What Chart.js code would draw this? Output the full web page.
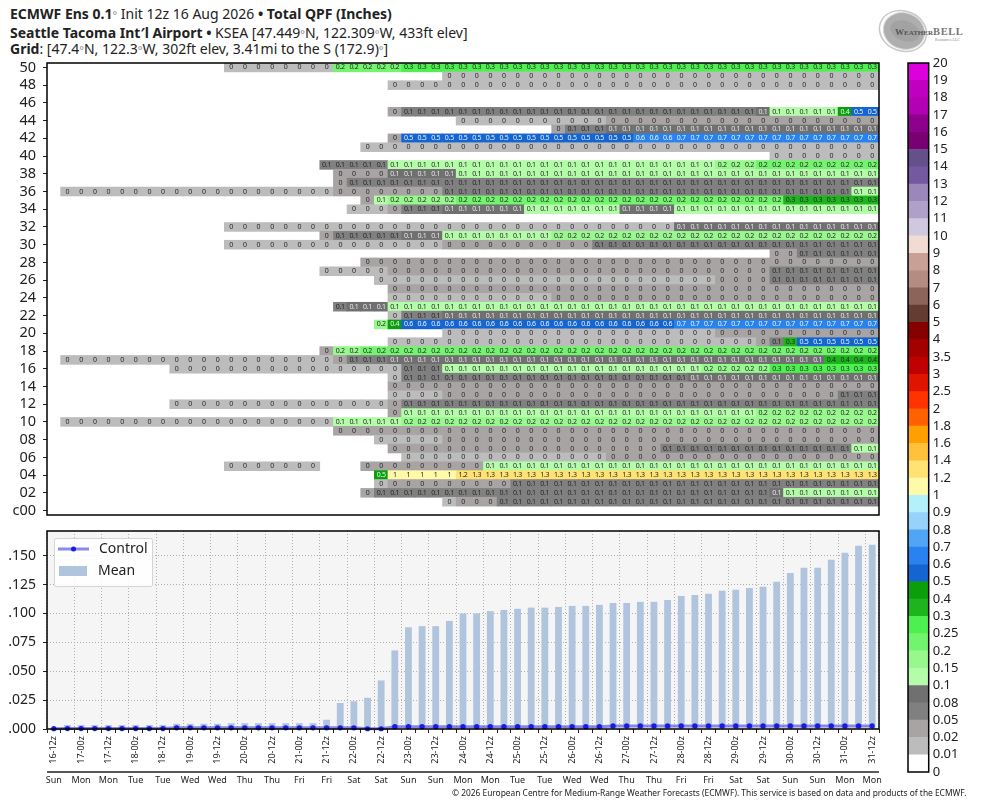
<!DOCTYPE html>
<html><head><meta charset="utf-8">
<script src="https://cdn.jsdelivr.net/npm/chart.js@4/dist/chart.umd.min.js"></script>
<style>
html,body{margin:0;padding:0;background:#fff;width:984px;height:808px;overflow:hidden;font-family:"Noto Sans",sans-serif;color:#222}
canvas{position:absolute}
.t{position:absolute;left:10px;white-space:nowrap;font-size:14px;line-height:16px}
.d{color:#888;font-size:11px}
#copy{position:absolute;left:452px;top:787px;font-size:8.4px;line-height:12px;white-space:nowrap;color:#222}
#logo{position:absolute;left:875px;top:4px}
</style></head><body>
<div class="t" style="top:6px"><b>ECMWF Ens 0.1</b><span class="d">°</span> Init 12z 16 Aug 2026 <b>• Total QPF (Inches)</b></div>
<div class="t" style="top:25px"><b>Seattle Tacoma Int′l Airport •</b> KSEA [47.449<span class="d">°</span>N, 122.309<span class="d">°</span>W, 433ft elev]</div>
<div class="t" style="top:41px"><b>Grid</b>: [47.4<span class="d">°</span>N, 122.3<span class="d">°</span>W, 302ft elev, 3.41mi to the S (172.9)<span class="d">°</span>]</div>
<svg id="logo" width="100" height="54" viewBox="0 0 100 54">
<ellipse cx="28" cy="27" rx="24" ry="20" fill="none" stroke="#c8c8c8" stroke-width="1.5" transform="rotate(20 28 27)"/>
<ellipse cx="29" cy="27" rx="21" ry="18" fill="#aeaeae" stroke="#d8d8d8" stroke-width="1" transform="rotate(20 29 27)"/>
<ellipse cx="30" cy="27" rx="15" ry="10" fill="#a2a2a2" transform="rotate(20 30 27)"/>
<text x="20" y="31" font-family="Liberation Serif" font-weight="bold" font-size="9" fill="#555">W<tspan font-size="7">EATHER</tspan><tspan font-size="10.5" fill="#777" letter-spacing=".6">BELL</tspan></text>
<text x="60" y="37" font-family="Liberation Serif" font-size="4" fill="#888">Resources LLC</text>
</svg>
<canvas id="heat" width="890" height="465" style="left:0;top:55px"></canvas>
<canvas id="bars" width="890" height="283" style="left:0;top:525px"></canvas>
<canvas id="cbar" width="94" height="730" style="left:890px;top:50px"></canvas>
<div id="copy">© 2026 European Centre for Medium-Range Weather Forecasts (ECMWF). This service is based on data and products of the ECMWF.</div>
<script>
const _ = null;
const timeLabels = ['16-12z','16-18z','17-00z','17-06z','17-12z','17-18z','18-00z','18-06z','18-12z','18-18z','19-00z','19-06z','19-12z','19-18z','20-00z','20-06z','20-12z','20-18z','21-00z','21-06z','21-12z','21-18z','22-00z','22-06z','22-12z','22-18z','23-00z','23-06z','23-12z','23-18z','24-00z','24-06z','24-12z','24-18z','25-00z','25-06z','25-12z','25-18z','26-00z','26-06z','26-12z','26-18z','27-00z','27-06z','27-12z','27-18z','28-00z','28-06z','28-12z','28-18z','29-00z','29-06z','29-12z','29-18z','30-00z','30-06z','30-12z','30-18z','31-00z','31-06z','31-12z'];
const dayLabels = ['Sun','Mon','Mon','Tue','Tue','Wed','Wed','Thu','Thu','Fri','Fri','Sat','Sat','Sun','Sun','Mon','Mon','Tue','Tue','Wed','Wed','Thu','Thu','Fri','Fri','Sat','Sat','Sun','Sun','Mon','Mon'];
const m50=[_,_,_,_,_,_,_,_,_,_, _,_,_,.01,.01,.01,.01,.01,.01,.01, .01,.22,.22,.22,.22,.22,.27,.27,.27,.27, .27,.27,.27,.27,.27,.27,.27,.27,.27,.27, .27,.27,.27,.27,.27,.27,.27,.27,.27,.27, .27,.27,.27,.27,.27,.27,.27,.27,.27,.27, .27];
const m49=[_,_,_,_,_,_,_,_,_,_, _,_,_,_,_,_,_,_,_,_, _,_,_,_,_,_,_,_,_,.01, .01,.01,.01,.01,.01,.01,.01,.01,.01,.01, .01,.01,.01,.01,.01,.01,.01,.01,.01,.01, .01,.01,.01,.01,.01,.01,.01,.01,.01,.01, .01];
const m48=[_,_,_,_,_,_,_,_,_,_, _,_,_,_,_,_,_,_,_,_, _,_,_,_,_,.01,.01,.01,.01,.01, .01,.01,.01,.01,.01,.01,.01,.01,.01,.01, .01,.01,.01,.01,.01,.01,.01,.01,.01,.01, .01,.01,.01,.01,.01,.01,.01,.01,.01,.01, .01];
const m47=[];
const m46=[];
const m45=[_,_,_,_,_,_,_,_,_,_, _,_,_,_,_,_,_,_,_,_, _,_,_,_,_,.03,.06,.06,.06,.06, .06,.06,.06,.06,.06,.06,.06,.06,.06,.06, .06,.06,.06,.06,.06,.06,.06,.06,.06,.06, .06,.06,.09,.12,.12,.12,.12,.12,.42,.53, .53];
const m44=[_,_,_,_,_,_,_,_,_,_, _,_,_,_,_,_,_,_,_,_, _,_,_,_,_,_,_,_,_,_, .01,.01,.01,.01,.01,.01,.01,.01,.01,.01, .01,.03,.03,.03,.03,.03,.03,.03,.03,.03, .03,.03,.03,.03,.03,.03,.03,.03,.03,.03, .03];
const m43=[_,_,_,_,_,_,_,_,_,_, _,_,_,_,_,_,_,_,_,_, _,_,_,_,_,_,_,_,_,_, _,_,_,_,_,_,_,.03,.06,.06, .06,.09,.09,.09,.09,.09,.09,.09,.09,.09, .09,.09,.09,.09,.09,.09,.09,.09,.09,.09, .09];
const m42=[_,_,_,_,_,_,_,_,_,_, _,_,_,_,_,_,_,_,_,_, _,_,_,_,_,.03,.53,.53,.53,.53, .53,.53,.53,.53,.53,.53,.53,.53,.53,.53, .53,.53,.53,.63,.63,.63,.67,.67,.67,.67, .67,.67,.67,.67,.67,.67,.67,.67,.67,.67, .67];
const m41=[_,_,_,_,_,_,_,_,_,_, _,_,_,_,_,_,_,_,_,_, _,_,_,.01,.01,.01,.01,.01,.01,.01, .01,.01,.01,.01,.01,.01,.01,.01,.01,.01, .01,.01,.01,.01,.01,.01,.01,.01,.01,.01, .01,.01,.01,.01,.01,.01,.01,.01,.01,.01, .01];
const m40=[_,_,_,_,_,_,_,_,_,_, _,_,_,_,_,_,_,_,_,_, _,_,_,_,_,_,_,_,_,_, _,_,_,_,_,_,_,_,_,_, _,_,_,_,_,_,_,_,_,_, _,_,_,.01,.01,.01,.01,.01,.01,.01, .01];
const m39=[_,_,_,_,_,_,_,_,_,_, _,_,_,_,_,_,_,_,_,_, .06,.06,.06,.06,.06,.12,.12,.12,.12,.12, .12,.12,.12,.12,.12,.12,.12,.12,.12,.12, .12,.12,.12,.12,.12,.12,.12,.12,.12,.17, .17,.17,.22,.22,.22,.22,.22,.22,.22,.22, .22];
const m38=[_,_,_,_,_,_,_,_,_,_, _,_,_,_,_,_,_,_,_,_, _,.03,.03,.03,.03,.09,.09,.09,.09,.09, .12,.12,.12,.12,.12,.12,.12,.12,.12,.12, .12,.12,.12,.12,.12,.12,.12,.12,.12,.12, .12,.12,.12,.12,.12,.12,.12,.12,.12,.12, .12];
const m37=[_,_,_,_,_,_,_,_,_,_, _,_,_,_,_,_,_,_,_,_, _,.03,.06,.06,.06,.06,.06,.06,.06,.06, .06,.06,.06,.06,.06,.06,.06,.06,.06,.06, .06,.06,.06,.06,.06,.06,.06,.06,.06,.06, .06,.06,.06,.06,.06,.06,.06,.06,.06,.06, .06];
const m36=[_,.01,.01,.01,.01,.01,.01,.01,.01,.01, .01,.01,.01,.01,.01,.01,.01,.01,.01,.01, .01,.03,.03,.03,.03,.03,.03,.03,.03,.06, .06,.06,.06,.06,.06,.06,.06,.06,.06,.06, .06,.06,.06,.06,.06,.06,.06,.06,.06,.06, .06,.06,.06,.06,.06,.06,.06,.06,.06,.12, .12];
const m35=[_,_,_,_,_,_,_,_,_,_, _,_,_,_,_,_,_,_,_,_, _,_,_,.03,.12,.17,.17,.17,.17,.17, .22,.22,.22,.22,.22,.22,.22,.22,.22,.22, .22,.22,.22,.22,.22,.22,.22,.22,.22,.22, .22,.22,.22,.22,.33,.33,.33,.33,.33,.33, .33];
const m34=[_,_,_,_,_,_,_,_,_,_, _,_,_,_,_,_,_,_,_,_, _,_,.01,.01,.01,.03,.06,.06,.06,.09, .09,.09,.09,.09,.09,.12,.12,.12,.12,.12, .12,.12,.09,.09,.09,.09,.12,.12,.12,.12, .12,.12,.12,.12,.12,.12,.12,.12,.12,.12, .12];
const m33=[];
const m32=[_,_,_,_,_,_,_,_,_,_, _,_,_,.01,.01,.01,.01,.01,.01,.01, .01,.01,.01,.01,.01,.01,.01,.01,.01,.01, .01,.01,.01,.01,.01,.01,.01,.01,.01,.01, .01,.01,.01,.01,.01,.01,.09,.09,.09,.09, .09,.09,.09,.09,.09,.09,.09,.09,.09,.09, .09];
const m31=[_,_,_,_,_,_,_,_,_,_, _,_,_,_,_,_,_,_,_,_, .03,.06,.06,.06,.06,.06,.09,.09,.09,.12, .12,.12,.12,.12,.12,.12,.12,.17,.17,.17, .17,.17,.17,.17,.17,.17,.17,.17,.17,.17, .17,.17,.17,.17,.17,.17,.17,.17,.17,.17, .17];
const m30=[_,_,_,_,_,_,_,_,_,_, _,_,_,.01,.01,.01,.01,.01,.01,.01, .01,.01,.01,.01,.01,.01,.01,.01,.01,.03, .03,.03,.03,.03,.03,.03,.03,.03,.03,.03, .06,.06,.06,.06,.06,.06,.06,.06,.06,.06, .06,.06,.06,.06,.06,.06,.06,.06,.06,.06, .06];
const m29=[_,_,_,_,_,_,_,_,_,_, _,_,_,_,_,_,_,_,_,_, _,_,_,_,_,_,_,_,_,_, _,_,_,_,_,_,_,_,_,_, _,_,_,_,_,_,_,_,_,_, _,_,_,.03,.03,.06,.06,.06,.06,.06, .06];
const m28=[_,_,_,_,_,_,_,_,_,_, _,_,_,_,_,_,_,_,_,_, _,_,_,.03,.03,.03,.03,.03,.03,.03, .03,.03,.03,.03,.03,.03,.03,.03,.03,.03, .03,.03,.03,.03,.03,.03,.03,.03,.03,.03, .03,.03,.03,.03,.03,.03,.03,.03,.03,.03, .03];
const m27=[_,_,_,_,_,_,_,_,_,_, _,_,_,_,_,_,_,_,_,_, .01,.01,.01,.01,.01,.03,.03,.03,.03,.03, .03,.03,.03,.03,.03,.03,.03,.03,.03,.03, .03,.03,.03,.03,.03,.03,.03,.03,.03,.03, .03,.03,.03,.06,.06,.06,.06,.06,.06,.06, .06];
const m26=[_,_,_,_,_,_,_,_,_,_, _,_,_,_,_,_,_,_,_,_, _,_,_,_,.01,.01,.01,.01,.01,.01, .01,.01,.01,.01,.01,.01,.01,.01,.01,.01, .01,.01,.01,.01,.01,.01,.01,.01,.01,.03, .03,.03,.03,.06,.06,.06,.06,.06,.06,.06, .06];
const m25=[_,_,_,_,_,_,_,_,_,_, _,_,_,_,_,_,_,_,_,_, _,_,_,_,_,.03,.03,.03,.03,.03, .03,.03,.03,.03,.03,.03,.03,.03,.03,.03, .03,.03,.03,.03,.03,.03,.03,.03,.03,.03, .03,.03,.03,.03,.03,.03,.03,.03,.03,.03, .03];
const m24=[_,_,_,_,_,_,_,_,_,_, _,_,_,_,_,_,_,_,_,_, _,_,_,_,_,.01,.01,.01,.01,.01, .01,.01,.01,.01,.01,.01,.01,.03,.03,.03, .03,.03,.03,.03,.03,.03,.03,.03,.03,.03, .03,.03,.03,.03,.03,.03,.03,.03,.03,.03, .03];
const m23=[_,_,_,_,_,_,_,_,_,_, _,_,_,_,_,_,_,_,_,_, _,.06,.09,.09,.09,.12,.12,.12,.12,.12, .12,.12,.12,.12,.12,.12,.12,.12,.12,.12, .12,.12,.12,.12,.12,.12,.12,.12,.12,.12, .12,.12,.12,.12,.12,.12,.12,.12,.12,.12, .12];
const m22=[_,_,_,_,_,_,_,_,_,_, _,_,_,_,_,_,_,_,_,_, _,_,_,_,_,.01,.06,.06,.06,.09, .09,.09,.09,.09,.09,.09,.09,.09,.09,.09, .09,.09,.09,.09,.09,.09,.09,.09,.09,.09, .09,.09,.09,.09,.09,.09,.09,.09,.09,.09, .09];
const m21=[_,_,_,_,_,_,_,_,_,_, _,_,_,_,_,_,_,_,_,_, _,_,_,_,.17,.42,.57,.57,.57,.57, .57,.57,.57,.57,.57,.57,.57,.57,.57,.57, .57,.57,.57,.57,.57,.57,.67,.67,.67,.67, .67,.67,.67,.67,.67,.67,.67,.67,.67,.67, .67];
const m20=[_,_,_,_,_,_,_,_,_,_, _,_,_,_,_,_,_,_,_,_, _,_,_,_,_,_,_,_,_,.01, .01,.01,.01,.01,.01,.01,.01,.01,.01,.01, .01,.01,.01,.01,.01,.01,.01,.01,.01,.03, .03,.03,.03,.03,.03,.03,.03,.03,.03,.03, .03];
const m19=[_,_,_,_,_,_,_,_,_,_, _,_,_,_,_,_,_,_,_,_, _,_,_,_,_,.01,.01,.01,.01,.01, .01,.01,.01,.01,.01,.01,.01,.01,.01,.01, .01,.01,.01,.01,.01,.01,.01,.01,.01,.01, .01,.01,.03,.06,.33,.53,.53,.53,.53,.53, .53];
const m18=[_,_,_,_,_,_,_,_,_,_, _,_,_,_,_,_,_,_,_,_, .03,.17,.17,.22,.22,.22,.22,.22,.22,.22, .22,.22,.22,.22,.22,.22,.22,.22,.22,.22, .22,.22,.22,.22,.22,.22,.22,.22,.22,.22, .22,.22,.22,.22,.22,.22,.22,.22,.22,.22, .22];
const m17=[_,.01,.01,.01,.01,.01,.01,.01,.01,.01, .01,.01,.01,.01,.01,.01,.01,.01,.01,.01, .01,.03,.06,.06,.06,.09,.09,.09,.09,.09, .09,.09,.09,.09,.09,.09,.09,.09,.09,.09, .09,.09,.09,.09,.09,.09,.09,.09,.09,.09, .09,.09,.09,.09,.09,.09,.09,.37,.37,.37, .37];
const m16=[_,_,_,_,_,_,_,_,_,.01, .01,.01,.01,.01,.01,.01,.01,.01,.01,.01, .01,.01,.01,.01,.01,.01,.06,.06,.06,.12, .12,.12,.12,.12,.12,.12,.12,.12,.12,.12, .12,.12,.12,.12,.12,.12,.12,.12,.17,.17, .17,.17,.17,.27,.27,.27,.27,.27,.27,.27, .27];
const m15=[_,_,_,_,_,_,_,_,_,_, _,_,_,_,_,_,_,_,_,_, _,_,_,_,_,.01,.06,.06,.06,.06, .06,.06,.06,.06,.06,.06,.06,.06,.06,.06, .06,.06,.06,.06,.06,.06,.06,.09,.09,.09, .09,.09,.09,.09,.09,.09,.09,.09,.09,.09, .09];
const m14=[_,_,_,_,_,_,_,_,_,_, _,_,_,_,_,_,_,_,_,_, _,_,_,_,_,.03,.03,.03,.03,.03, .03,.03,.03,.03,.03,.03,.03,.03,.03,.03, .03,.03,.03,.03,.03,.03,.03,.03,.03,.03, .03,.03,.03,.03,.03,.03,.03,.03,.03,.03, .03];
const m13=[_,_,_,_,_,_,_,_,_,_, _,_,_,_,_,_,_,_,_,_, _,_,_,_,_,.01,.01,.01,.01,.03, .03,.03,.03,.03,.03,.03,.03,.03,.03,.03, .03,.03,.03,.03,.03,.03,.03,.03,.03,.03, .03,.03,.03,.03,.03,.03,.03,.03,.06,.06, .06];
const m12=[_,_,_,_,_,_,_,_,_,.01, .01,.01,.01,.01,.01,.01,.01,.01,.01,.01, .01,.01,.01,.01,.01,.03,.06,.06,.06,.06, .06,.06,.06,.06,.06,.06,.06,.06,.06,.06, .06,.06,.06,.06,.06,.06,.06,.06,.06,.06, .06,.06,.06,.06,.06,.06,.06,.06,.06,.06, .06];
const m11=[_,_,_,_,_,_,_,_,_,_, _,_,_,_,_,_,_,_,_,_, _,_,_,_,_,.03,.12,.12,.12,.12, .12,.12,.12,.12,.12,.12,.12,.12,.12,.12, .12,.12,.12,.12,.12,.12,.12,.12,.12,.12, .12,.12,.17,.17,.17,.17,.17,.17,.17,.17, .17];
const m10=[_,.01,.01,.01,.01,.01,.01,.01,.01,.01, .01,.01,.01,.01,.01,.01,.01,.01,.01,.01, .01,.12,.12,.12,.12,.12,.17,.17,.17,.17, .17,.17,.17,.17,.17,.17,.17,.17,.17,.17, .17,.17,.17,.17,.17,.17,.17,.17,.17,.17, .17,.17,.17,.17,.17,.17,.17,.17,.17,.17, .17];
const m09=[_,_,_,_,_,_,_,_,_,_, _,_,_,_,_,_,_,_,_,_, _,.03,.03,.03,.03,.03,.03,.03,.03,.03, .03,.03,.03,.03,.03,.03,.03,.03,.03,.03, .03,.03,.03,.03,.03,.03,.03,.03,.03,.03, .03,.03,.03,.03,.03,.03,.03,.03,.03,.03, .03];
const m08=[_,_,_,_,_,_,_,_,_,_, _,_,_,_,_,_,_,_,_,_, _,_,_,_,.01,.01,.01,.01,.01,.03, .03,.03,.03,.03,.03,.03,.03,.03,.03,.03, .03,.03,.03,.03,.03,.03,.03,.03,.03,.03, .03,.03,.03,.03,.03,.03,.03,.03,.03,.03, .03];
const m07=[_,_,_,_,_,_,_,_,_,_, _,_,_,_,_,_,_,_,_,_, _,_,_,_,_,.03,.03,.03,.03,.03, .03,.03,.03,.03,.03,.03,.03,.03,.03,.03, .03,.03,.03,.03,.03,.06,.06,.06,.06,.06, .06,.06,.06,.06,.06,.06,.06,.06,.06,.12, .12];
const m06=[_,_,_,_,_,_,_,_,_,_, _,_,_,_,_,_,_,_,_,_, _,_,_,_,_,_,.01,.01,.01,.01, .01,.01,.01,.01,.01,.01,.01,.01,.01,.01, .01,.03,.03,.03,.03,.03,.03,.03,.03,.03, .03,.03,.03,.03,.03,.03,.03,.03,.03,.03, .03];
const m05=[_,_,_,_,_,_,_,_,_,_, _,_,_,.01,.01,.01,.01,.01,.01,.01, _,_,_,.03,.03,.03,.03,.03,.03,.03, .03,.03,.12,.12,.12,.12,.12,.12,.12,.12, .12,.12,.12,.12,.12,.12,.12,.12,.12,.12, .12,.12,.12,.12,.12,.12,.12,.12,.12,.12, .12];
const m04=[_,_,_,_,_,_,_,_,_,_, _,_,_,_,_,_,_,_,_,_, _,_,_,_,.47,1.04,1.04,1.04,1.04,1.04, 1.22,1.3,1.3,1.3,1.3,1.3,1.3,1.3,1.3,1.3, 1.3,1.3,1.3,1.3,1.3,1.3,1.3,1.3,1.3,1.3, 1.3,1.3,1.3,1.3,1.3,1.3,1.3,1.3,1.3,1.3, 1.3];
const m03=[_,_,_,_,_,_,_,_,_,_, _,_,_,_,_,_,_,_,_,_, _,_,_,_,.01,.03,.03,.03,.03,.03, .03,.03,.03,.03,.06,.06,.06,.06,.06,.06, .06,.06,.06,.06,.06,.06,.06,.06,.06,.06, .06,.06,.06,.06,.06,.06,.06,.06,.06,.06, .06];
const m02=[_,_,_,_,_,_,_,_,_,_, _,_,_,_,_,_,_,_,_,_, _,_,_,.03,.06,.06,.06,.06,.06,.06, .06,.06,.06,.06,.06,.06,.06,.06,.06,.06, .06,.06,.06,.06,.06,.06,.06,.06,.06,.06, .06,.06,.06,.09,.12,.12,.12,.12,.12,.12, .12];
const m01=[_,_,_,_,_,_,_,_,_,_, _,_,_,_,_,_,_,_,_,_, _,_,_,_,_,_,_,_,_,.01, .03,.03,.03,.06,.06,.06,.06,.06,.06,.06, .06,.06,.06,.06,.06,.06,.06,.06,.06,.06, .06,.06,.06,.06,.06,.06,.06,.06,.06,.06, .06];
const m00=[];
const members=[m00,m01,m02,m03,m04,m05,m06,m07,m08,m09,m10,m11,m12,m13,m14,m15,m16,m17,m18,m19,m20,m21,m22,m23,m24,m25,m26,m27,m28,m29,m30,m31,m32,m33,m34,m35,m36,m37,m38,m39,m40,m41,m42,m43,m44,m45,m46,m47,m48,m49,m50];
const meanQpf=[0,.0035,.0035,.0035,.0035,.0035,.0035,.0035,.0035,.0045,.0045,.0045,.0045,.005,.005,.005,.005,.005,.005,.005,.008,.0225,.024,.027,.042,.068,.088,.089,.089,.0935,.1,.1,.102,.103,.104,.105,.105,.1056,.1065,.1065,.1074,.109,.109,.11,.11,.1117,.115,.116,.117,.1195,.1204,.122,.123,.1273,.135,.1394,.1394,.1464,.1524,.1585,.1594];
const controlQpf=[.0003,.0004,.0004,.0004,.0004,.0004,.0004,.0004,.0004,.001,.001,.001,.001,.001,.001,.001,.001,.001,.001,.001,.001,.001,.001,.0002,.0002,.002,.002,.002,.002,.002,.002,.002,.002,.002,.002,.002,.002,.002,.002,.002,.002,.0027,.0027,.0027,.0027,.0027,.0027,.0027,.0027,.0027,.0027,.0027,.0027,.0027,.0027,.0027,.0027,.0027,.0027,.0027,.0027];
const colorLevels=['0','0.01','0.02','0.05','0.08','0.1','0.15','0.2','0.25','0.3','0.4','0.5','0.6','0.7','0.8','0.9','1','1.2','1.4','1.6','1.8','2','2.5','3','3.5','4','5','6','7','8','9','10','11','12','13','14','15','16','17','18','19','20'];
const colorSwatches=['#ffffff','#bcbcbc','#a9a4a4','#808080','#707070','#b4fcaa','#98f88e','#72f46e','#4ef050','#1eb41e','#0c9f0c','#1464d2','#2882f0','#50a5f5','#96d2fa','#b4f0fa','#fffaaa','#ffe271','#ffc03c','#ffa000','#ff6000','#ff3200','#e11400','#c00000','#a50000','#870000','#643c32','#8c645a','#b48c82','#c8a096','#f0dcd2','#cfc8df','#afa0c8','#9b87ba','#7458a0','#66508c','#780072','#8c008c','#b400b4','#c000c0','#dc00dc'];

Chart.defaults.font.family='"Noto Sans"';
Chart.defaults.animation=false;
Chart.defaults.responsive=false;
Chart.defaults.plugins.legend.display=false;
Chart.defaults.plugins.tooltip.enabled=false;
const ink='#222';
const fit=(w,h)=>s=>{if(w!=null)s.width=w;if(h!=null)s.height=h;s.paddingTop=s.paddingBottom=s.paddingLeft=s.paddingRight=0;};
const frame={id:'frame',afterDraw(c){const a=c.chartArea,x=c.ctx;x.save();x.strokeStyle='#000';x.lineWidth=1.5;x.strokeRect(a.left,a.top,a.width,a.height);
 if(c.scales.x2){x.strokeStyle='#222';x.beginPath();x.moveTo(a.left,c.scales.x2.top);x.lineTo(a.right,c.scales.x2.top);x.stroke();}x.restore();}};
const swatch=v=>{let k=0;for(let i=0;i<colorSwatches.length;i++){if(v>=+colorLevels[i])k=i;}return colorSwatches[k];};
const cellInk=v=>(v>=.08&&v<.1)?'#e6e6e6':(v>=.4&&v<1)?'#e8f2ff':'#262626';
const cellText=v=>String(parseFloat(v.toFixed(1)));
const cellLabels={id:'cellLabels',afterDatasetsDraw(c){const x=c.ctx;x.save();x.font='7px "Noto Sans"';x.letterSpacing='-0.3px';x.textAlign='center';x.textBaseline='middle';
 c.data.datasets.forEach((d,di)=>{const row=d.cellValues;c.getDatasetMeta(di).data.forEach((el,i)=>{const v=row[i];if(v==null)return;x.fillStyle=cellInk(v);x.fillText(cellText(v),el.x,(el.y+el.base)/2);});});x.restore();}};
new Chart(document.getElementById('heat'),{type:'bar',plugins:[cellLabels,frame],
 data:{labels:timeLabels,datasets:members.map((row,r)=>({label:'m'+String(r).padStart(2,'0'),cellValues:row,
   data:row.map(v=>v==null?null:[r-.5,r+.5]),backgroundColor:row.map(v=>v==null?'transparent':swatch(v)),borderWidth:0,grouped:false,barPercentage:1,categoryPercentage:1}))},
 options:{layout:{padding:{left:0,right:11,top:8,bottom:5}},
  scales:{x:{display:false,offset:true,grid:{display:false}},
   y:{min:-.5,max:50.5,afterFit:fit(47,null),border:{display:false},grid:{drawOnChartArea:false,tickLength:4,tickColor:'#222'},
      ticks:{stepSize:2,autoSkip:false,includeBounds:false,padding:7,color:ink,font:{size:14.5},callback:v=>v===0?'c00':String(v).padStart(2,'0')}}}}});
const legendBox={id:'legendBox',afterDatasetsDraw(c){const x=c.ctx;const [ctrl,mean]=c.data.datasets;x.save();
 x.fillStyle='rgba(255,255,255,.85)';x.strokeStyle='#d4d4d4';x.lineWidth=1;x.beginPath();x.roundRect(54.5,13.5,98,48,2);x.fill();x.stroke();
 x.strokeStyle=ctrl.borderColor;x.lineWidth=3;x.beginPath();x.moveTo(58,24);x.lineTo(89,24);x.stroke();
 x.fillStyle=ctrl.pointBackgroundColor;x.beginPath();x.arc(73.5,24,2.5,0,7);x.fill();
 x.fillStyle=mean.backgroundColor;x.fillRect(59,41,28,10);
 x.fillStyle=ink;x.font='14px "Noto Sans"';x.textBaseline='middle';x.fillText(ctrl.label,99,24);x.fillText(mean.label,98,46);x.restore();}};
const bgArea={id:'bgArea',beforeDraw(c){const a=c.chartArea,x=c.ctx;x.save();x.fillStyle='#f5f5f5';x.fillRect(a.left,a.top,a.width,a.height);x.restore();}};
new Chart(document.getElementById('bars'),{type:'bar',plugins:[bgArea,legendBox,frame],
 data:{labels:timeLabels,datasets:[
  {type:'line',label:'Control',data:controlQpf,order:0,borderColor:'rgba(60,60,225,.6)',borderWidth:3,pointRadius:2.6,pointBorderWidth:0,pointBackgroundColor:'#1a1ae0',clip:false,tension:0},
  {type:'bar',label:'Mean',data:meanQpf,order:1,backgroundColor:'#b0c4de',barPercentage:.5,categoryPercentage:1}]},
 options:{layout:{padding:{left:0,right:11,top:6,bottom:16}},
  scales:{
   x:{offset:true,afterFit:fit(null,43),border:{display:false,dash:[1,2]},grid:{color:c=>c.index%2?'transparent':'#b0b0b0',lineWidth:1,tickLength:4,tickColor:'#222',tickBorderDash:[]},
      ticks:{autoSkip:false,minRotation:90,maxRotation:90,padding:3,color:ink,font:{size:9},callback(v,i){return i%2?'':timeLabels[i];}}},
   x2:{type:'category',labels:timeLabels,position:'bottom',offset:true,afterFit:fit(null,20),border:{display:false},grid:{color:'transparent',drawTicks:false,tickLength:0},
      ticks:{autoSkip:false,maxRotation:0,minRotation:0,padding:3,color:ink,font:{size:9},callback(v,i){return i%2?'':dayLabels[i/2];}}},
   y:{min:0,max:.1713,afterFit:fit(47,null),border:{display:false,dash:[1,2]},grid:{color:'#b0b0b0',tickLength:4,tickColor:'#222',tickBorderDash:[]},
      ticks:{stepSize:.025,includeBounds:false,padding:7,color:ink,font:{size:14},callback:v=>v.toFixed(3).slice(1)}}}}});
new Chart(document.getElementById('cbar'),{type:'bar',plugins:[frame],
 data:{labels:['QPF'],datasets:colorSwatches.map((col,i)=>({label:colorLevels[i],data:[[i,i+1]],backgroundColor:col,borderWidth:0,grouped:false,barPercentage:1,categoryPercentage:1}))},
 options:{layout:{padding:{left:18,right:0,top:13,bottom:8}},
  scales:{x:{display:false},
   y:{position:'right',min:0,max:41,afterFit:fit(55.3,null),border:{display:false},grid:{display:false,drawTicks:false},
      ticks:{stepSize:1,autoSkip:false,includeBounds:false,padding:4,color:ink,font:{size:13},callback:v=>colorLevels[v]}}}}});
</script>
</body></html>
